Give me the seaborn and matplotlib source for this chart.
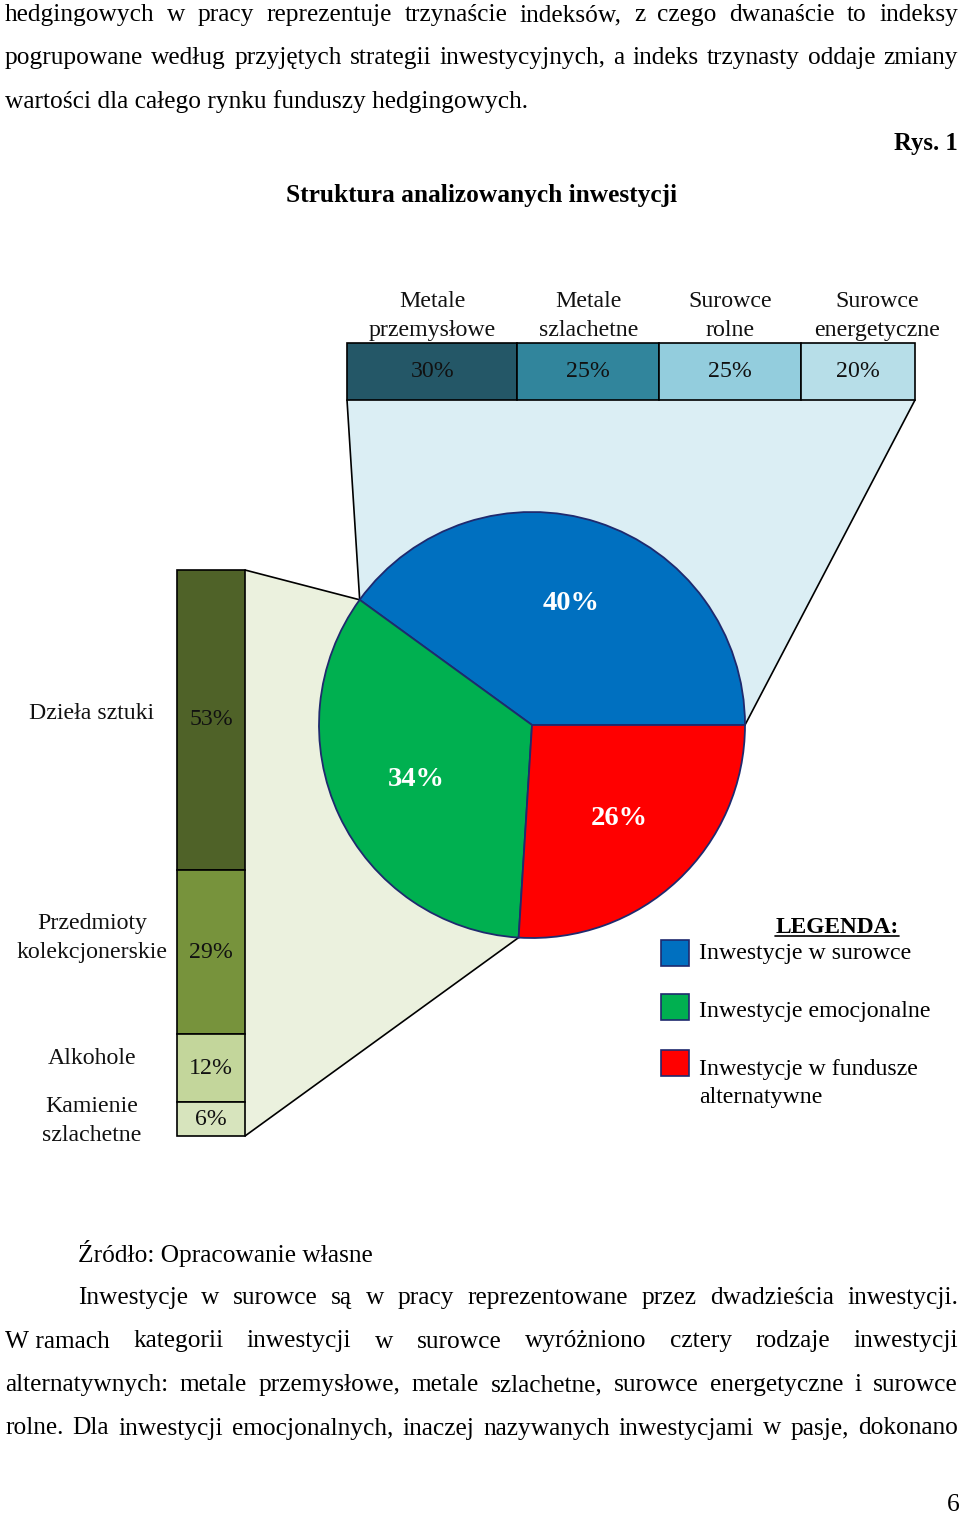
import matplotlib
matplotlib.use("Agg")
import matplotlib.pyplot as plt
import matplotlib.transforms as mtransforms
from matplotlib.patches import Polygon, Rectangle
import numpy as np
import seaborn as sns

# ---------------- data ----------------
pie_labels = ["Inwestycje w surowce", "Inwestycje emocjonalne",
              "Inwestycje w fundusze\nalternatywne"]
pie_values = [40, 34, 26]
raw_categories = ["Metale\nprzemysłowe", "Metale\nszlachetne", "Surowce\nrolne",
                  "Surowce\nenergetyczne"]
raw_values = [30, 25, 25, 20]
emo_categories = ["Dzieła sztuki", "Przedmioty\nkolekcjonerskie", "Alkohole",
                  "Kamienie\nszlachetne"]
emo_values = [53, 29, 12, 6]

top_text = [
    ("hedgingowych w pracy reprezentuje trzynaście indeksów, z czego dwanaście to indeksy", True),
    ("pogrupowane według przyjętych strategii inwestycyjnych, a indeks trzynasty oddaje zmiany", True),
    ("wartości dla całego rynku funduszy hedgingowych.", False),
]
bottom_text = [
    ("Inwestycje w surowce są w pracy reprezentowane przez dwadzieścia inwestycji.", True, 78),
    ("W\u00a0ramach kategorii inwestycji w surowce wyróżniono cztery rodzaje inwestycji", True, 5),
    ("alternatywnych: metale przemysłowe, metale szlachetne, surowce energetyczne i surowce", True, 5),
    ("rolne. Dla inwestycji emocjonalnych, inaczej nazywanych inwestycjami w pasje, dokonano", True, 5),
]

# ---------------- style ----------------
sns.set_theme(style="white")
plt.rcParams['font.family'] = ['Liberation Serif', 'DejaVu Serif']
plt.rcParams['text.color'] = 'black'

pie_colors = ["#0070C0", "#00B050", "#FF0000"]
raw_colors = ["#245767", "#31859C", "#93CDDD", "#B7DEE8"]
emo_colors = ["#4F6228", "#77933C", "#C3D69B", "#D7E4BD"]
BODY = 18.3
LAB = 17.2
LS = 1.45
raw_label_dx = [0, 0, 0, 3.3]        # horizontal nudge of top labels (% units)
emo_label_dy = [-1.2, -2.45, -1.7, 0.3]  # vertical nudge of left labels (% units)

W, H = 960, 1515
fig = plt.figure(figsize=(W / 100, H / 100), dpi=100)
fig.patch.set_facecolor("white")
ax = fig.add_axes([0, 0, 1, 1])
ax.set_xlim(0, W)
ax.set_ylim(H, 0)
ax.axis('off')
renderer = fig.canvas.get_renderer()


def text_line(s, y, x0, x1, justify, size=BODY):
    if not justify:
        ax.text(x0, y, s, fontsize=size, va='baseline', ha='left', color='black')
        return
    words = s.split(' ')
    objs = [ax.text(0, y, w, fontsize=size, va='baseline', ha='left', color='black')
            for w in words]
    widths = [o.get_window_extent(renderer).width for o in objs]
    gap = (x1 - x0 - sum(widths)) / (len(words) - 1)
    x = x0
    for o, wd in zip(objs, widths):
        o.set_x(x)
        x += wd + gap


# body text top
for i, (s, j) in enumerate(top_text):
    text_line(s, 21 + 43.3 * i, 5, 958, j)

# headings
ax.text(958, 150, "Rys. 1", fontsize=17.7, fontweight='bold', ha='right', va='baseline')
ax.text(481, 202, "Struktura analizowanych inwestycji", fontsize=18.3,
        fontweight='bold', ha='center', va='baseline')

# ---------------- pie ----------------
cx, cy, R = 532, 725, 213
wedges, texts, autotexts = ax.pie(
    pie_values, colors=pie_colors, startangle=0, counterclock=False,
    center=(cx, cy), radius=R, autopct='%.0f%%', pctdistance=0.6, frame=True,
    wedgeprops=dict(edgecolor='#1F2A6E', linewidth=1.3, zorder=3),
    textprops=dict(color='white', fontsize=20.5, fontweight='bold'))
for t in autotexts:
    t.set_zorder(4)
ax.set_xlim(0, W)
ax.set_ylim(H, 0)
ax.set_aspect('auto')
ax.axis('off')

# boundary points on the circle (visual angles, counter-clockwise from 3 o'clock)
cum = np.concatenate([[0], np.cumsum(pie_values)]) / sum(pie_values) * 360


def circ(a):
    r = np.deg2rad(a)
    return (cx + R * np.cos(r), cy - R * np.sin(r))


p_blue_start = circ(cum[0])
p_blue_green = circ(cum[1])
p_green_red = circ(cum[2])

# ---------------- bar geometry (pixels) ----------------
tx0, tx1, ty0, ty1 = 347, 915, 343, 400
lx0, lx1, ly0, ly1 = 177, 245, 570, 1136

# connector polygons
ax.add_patch(Polygon([(tx0, ty1), (tx1, ty1), p_blue_start, p_blue_green],
                     closed=True, facecolor="#DBEEF4", edgecolor='none', zorder=1))
ax.add_patch(Polygon([(lx1, ly0), p_blue_green, p_green_red, (lx1, ly1)],
                     closed=True, facecolor="#EBF1DE", edgecolor='none', zorder=1.1))
for a, b in [((tx0, ty1), p_blue_green), ((tx1, ty1), p_blue_start),
             ((lx1, ly0), p_blue_green), ((lx1, ly1), p_green_red)]:
    ax.plot([a[0], b[0]], [a[1], b[1]], color='black', lw=1.2, zorder=2)

# ---------------- top stacked bar ----------------
ax_t = fig.add_axes([tx0 / W, 1 - ty1 / H, (tx1 - tx0) / W, (ty1 - ty0) / H])
left = np.concatenate([[0], np.cumsum(raw_values)[:-1]])
ax_t.barh([0] * len(raw_values), raw_values, left=left, height=1.0,
          color=raw_colors, edgecolor='black', linewidth=1.2, clip_on=False)
ax_t.set_xlim(0, sum(raw_values))
ax_t.set_ylim(-0.5, 0.5)
ax_t.axis('off')
bt = mtransforms.blended_transform_factory(ax_t.transData, ax_t.transAxes)
for lab, v, l, dx in zip(raw_categories, raw_values, left, raw_label_dx):
    ax_t.text(l + v / 2, 0, f"{v}%", ha='center', va='center', fontsize=LAB, color='#111111')
    ax_t.text(l + v / 2 + dx, 1.48, lab, ha='center', va='center', fontsize=LAB,
              linespacing=1.5, transform=bt, color='#111111')

# ---------------- left stacked bar ----------------
ax_l = fig.add_axes([lx0 / W, 1 - ly1 / H, (lx1 - lx0) / W, (ly1 - ly0) / H])
bottom = np.concatenate([[0], np.cumsum(emo_values)[:-1]])
ax_l.bar([0] * len(emo_values), emo_values, bottom=bottom, width=1.0, align='edge',
         color=emo_colors, edgecolor='black', linewidth=1.2, clip_on=False)
ax_l.set_xlim(0, 1)
ax_l.set_ylim(sum(emo_values), 0)
ax_l.axis('off')
for lab, v, b, dy in zip(emo_categories, emo_values, bottom, emo_label_dy):
    ax_l.text(0.5, b + v / 2, f"{v}%", ha='center', va='center', fontsize=LAB, color='#111111')
    ax_l.text(-1.25, b + v / 2 + dy, lab, ha='center', va='center', fontsize=LAB,
              linespacing=1.5, color='#111111')

# ---------------- legend ----------------
leg_t = ax.text(837, 933, "LEGENDA:", fontsize=16.8, fontweight='bold', ha='center',
                va='baseline')
bb = leg_t.get_window_extent(renderer)
ax.plot([bb.x0, bb.x1], [936, 936], color='black', lw=1.2)
sq_y = [940, 994, 1050]
txt_y = [953, 1011, 1068]
for c, lab, y0, yt in zip(pie_colors, pie_labels, sq_y, txt_y):
    ax.add_patch(Rectangle((661, y0), 28, 26, facecolor=c, edgecolor='#1F2A6E', lw=1.2))
    if '\n' in lab:
        ax.text(699, yt - 9, lab, fontsize=LAB, ha='left', va='top', linespacing=LS)
    else:
        ax.text(699, yt, lab, fontsize=LAB, ha='left', va='center')

# ---------------- bottom text ----------------
ax.text(78, 1262, "Źródło: Opracowanie własne", fontsize=BODY, va='baseline', ha='left')
for i, (s, j, x0) in enumerate(bottom_text):
    text_line(s, 1304 + 43.5 * i, x0, 958, j)
ax.text(960, 1511, "6", fontsize=BODY, ha='right', va='baseline')

fig.savefig("out.png", dpi=100, facecolor='white')
